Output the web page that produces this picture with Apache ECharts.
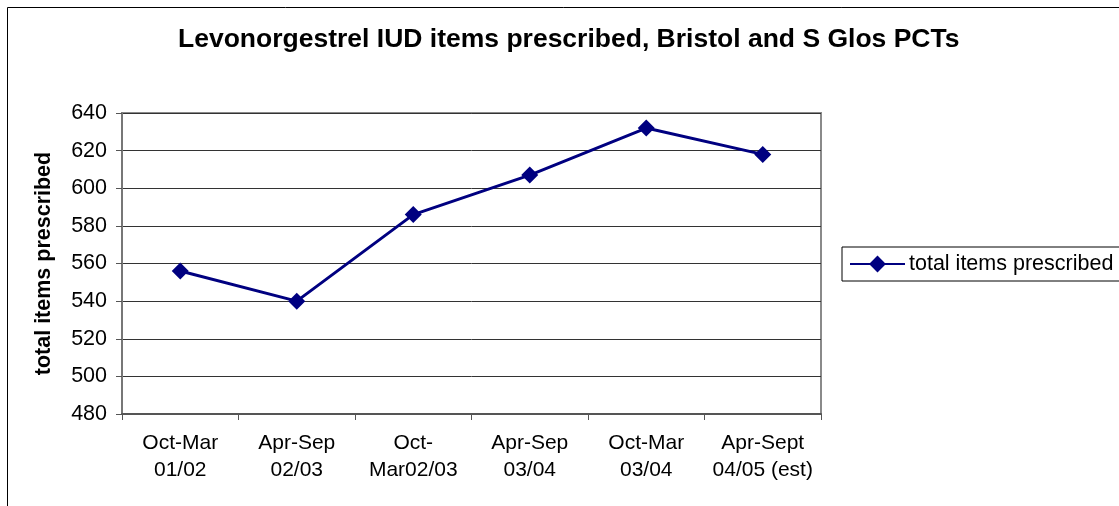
<!DOCTYPE html>
<html>
<head>
<meta charset="utf-8">
<script src="https://cdn.jsdelivr.net/npm/echarts@6/dist/echarts.min.js"></script>
<style>
  html, body { margin: 0; padding: 0; background: #fff; }
  #chart { width: 1119px; height: 506px; }
</style>
</head>
<body>
<div id="chart"></div>
<script>
const categories = ['Oct-Mar\n01/02', 'Apr-Sep\n02/03', 'Oct-\nMar02/03', 'Apr-Sep\n03/04', 'Oct-Mar\n03/04', 'Apr-Sept\n04/05 (est)'];
const itemsPrescribed = [556, 540, 586, 607, 632, 618];
const yMin = 480;
const yMax = 640;
const yStep = 20;

const chart = echarts.init(document.getElementById('chart'));
const font = '"Liberation Sans", Arial, sans-serif';

chart.setOption({
  animation: false,
  textStyle: { fontFamily: font },
  graphic: [
    {
      type: 'rect',
      shape: { x: 7.5, y: 7.5, width: 1200, height: 600 },
      style: { fill: 'none', stroke: '#000', lineWidth: 1 },
      silent: true
    }
  ],
  title: {
    text: 'Levonorgestrel IUD items prescribed, Bristol and S Glos PCTs',
    left: 173,
    top: 21,
    textStyle: { fontFamily: font, fontSize: 26.5, fontWeight: 'bold', color: '#000' }
  },
  legend: {
    left: 842,
    top: 247,
    orient: 'vertical',
    borderColor: '#000',
    borderWidth: 1,
    borderRadius: 0,
    padding: [6, 8, 6, 7],
    itemWidth: 55,
    itemHeight: 21,
    itemGap: 0,
    textStyle: { fontFamily: font, fontSize: 21.5, color: '#000', padding: [0, 0, 0, -1] },
    data: ['total items prescribed']
  },
  grid: {
    left: 122,
    top: 113,
    right: 298,
    bottom: 92,
    show: true,
    borderColor: '#8a8a8a',
    borderWidth: 2,
    backgroundColor: '#fff'
  },
  xAxis: {
    type: 'category',
    data: categories,
    boundaryGap: true,
    axisLine: { lineStyle: { color: '#555', width: 2 } },
    axisTick: { show: true, interval: 0, length: 6, lineStyle: { color: '#555' } },
    axisLabel: { interval: 0, fontFamily: font, fontSize: 21, color: '#000', lineHeight: 27, margin: 16 }
  },
  yAxis: {
    type: 'value',
    min: yMin,
    max: yMax,
    interval: yStep,
    name: 'total items prescribed',
    nameLocation: 'middle',
    nameRotate: 90,
    nameGap: 67,
    nameTextStyle: { fontFamily: font, fontSize: 21.5, fontWeight: 'bold', color: '#000' },
    axisLine: { show: true, lineStyle: { color: '#777', width: 2 } },
    axisTick: { show: true, length: 6, lineStyle: { color: '#555' } },
    axisLabel: { fontFamily: font, fontSize: 21.5, color: '#000', margin: 15 },
    splitLine: { show: true, lineStyle: { color: '#333', width: 1 } }
  },
  series: [
    {
      name: 'total items prescribed',
      type: 'line',
      data: itemsPrescribed,
      symbol: 'diamond',
      symbolSize: 17,
      itemStyle: { color: '#000080' },
      lineStyle: { color: '#000080', width: 3 }
    }
  ]
});
</script>
</body>
</html>
